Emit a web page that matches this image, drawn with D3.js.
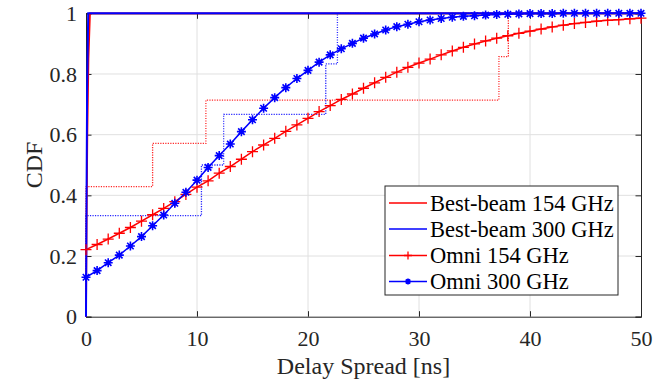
<!DOCTYPE html>
<html><head><meta charset="utf-8">
<script src="https://cdn.jsdelivr.net/npm/d3@7"></script>
<style>body{margin:0;background:#fff}svg{display:block}svg text{font-family:"Liberation Serif","Times New Roman",serif !important;}</style>
</head><body><svg id="c" width="663" height="380" font-family="Liberation Serif"></svg>
<script>
const xTicks=[0,10,20,30,40,50];
const yTicks=[0,0.2,0.4,0.6,0.8,1];
const yTickLabels=["0","0.2","0.4","0.6","0.8","1"];
const seriesNames=["Best-beam 154 GHz","Best-beam 300 GHz","Omni 154 GHz","Omni 300 GHz"];
const colors=["#ff0000","#0000ff","#ff0000","#0000ff"];
// Best-beam CDFs (solid), x in ns
const bb154=[[0,0],[0.05,0.3],[0.12,0.6],[0.22,0.85],[0.36,1],[50,1]];
const bb300=[[0,0],[0.05,0.4],[0.1,0.75],[0.2,1],[50,1]];
// Best-beam empirical steps (dotted)
const bb154StepX=[0,6.0,10.8,37.2,38.05];
const bb154StepY=[0.429,0.571,0.714,0.857,1];
const bb300StepX=[0,10.4,12.4,21.6,22.65];
const bb300StepY=[0.333,0.5,0.667,0.833,1];
// Omni CDFs, sampled every 1 ns from 0 to 50
const omniX=d3.range(0,51);
const omni154=[0.221,0.238,0.256,0.275,0.294,0.315,0.336,0.357,0.379,0.403,0.427,0.448,0.473,0.495,0.519,0.544,0.566,0.588,0.611,0.632,0.654,0.676,0.696,0.716,0.734,0.753,0.771,0.789,0.806,0.822,0.836,0.849,0.863,0.876,0.888,0.899,0.909,0.918,0.926,0.934,0.941,0.948,0.955,0.961,0.966,0.970,0.974,0.977,0.979,0.982,0.984];
const omni300=[0.130,0.152,0.178,0.203,0.233,0.264,0.300,0.335,0.374,0.410,0.450,0.492,0.531,0.569,0.610,0.649,0.687,0.722,0.755,0.785,0.812,0.839,0.863,0.883,0.901,0.918,0.932,0.945,0.956,0.964,0.972,0.978,0.983,0.987,0.990,0.992,0.994,0.996,0.997,0.998,0.999,0.999,0.999,1,1,1,1,1,1,1,1];

const svg=d3.select("#c");
const L=86,R=641,T=13.3,B=316.7;
const x=d3.scaleLinear().domain([0,50]).range([L,R]);
const y=d3.scaleLinear().domain([0,1]).range([B,T]);
const axisCol="#262626";

// grid
const g=svg.append("g");
g.selectAll(".gx").data(xTicks.slice(1,-1)).enter().append("line")
 .attr("x1",d=>x(d)).attr("x2",d=>x(d)).attr("y1",T).attr("y2",B).attr("stroke","#e0e0e0").attr("stroke-width",1);
g.selectAll(".gy").data(yTicks.slice(1,-1)).enter().append("line")
 .attr("y1",d=>y(d)).attr("y2",d=>y(d)).attr("x1",L).attr("x2",R).attr("stroke","#e0e0e0").attr("stroke-width",1);

// axes
const tl=5.5;
const xa=svg.append("g").attr("transform",`translate(0,${B})`).call(d3.axisBottom(x).tickValues(xTicks).tickSize(-tl).tickPadding(14).tickFormat(d3.format("d")));
const xt=svg.append("g").attr("transform",`translate(0,${T})`).call(d3.axisTop(x).tickValues(xTicks).tickSize(-tl).tickFormat(""));
const ya=svg.append("g").attr("transform",`translate(${L},0)`).call(d3.axisLeft(y).tickValues(yTicks).tickSize(-tl).tickPadding(9).tickFormat((d,i)=>yTickLabels[i]));
const yr=svg.append("g").attr("transform",`translate(${R},0)`).call(d3.axisRight(y).tickValues(yTicks).tickSize(-tl).tickFormat(""));
[xa,xt,ya,yr].forEach(a=>{a.attr("font-family","Liberation Serif");a.select(".domain").attr("stroke",axisCol).attr("stroke-width",1);a.selectAll(".tick line").attr("stroke",axisCol).attr("stroke-width",1);a.selectAll("text").style("font-size","22px").attr("fill",axisCol);});
xa.selectAll(".tick").filter(d=>d===0||d===50).select("line").remove();

const line=d3.line().x(d=>x(d[0])).y(d=>y(d[1]));
function steps(xs,ys){const pts=[[xs[0],0]];xs.forEach((v,i)=>{pts.push([v,i===0?0:ys[i-1]]);pts.push([v,ys[i]]);});pts.push([50,1]);return pts;}

const plot=svg.append("g");
// dotted steps
plot.append("path").attr("d",line(steps(bb154StepX,bb154StepY))).attr("fill","none").attr("stroke",colors[0]).attr("stroke-width",1.3).attr("stroke-dasharray","1.2,1.3").attr("opacity",0.85);
plot.append("path").attr("d",line(steps(bb300StepX,bb300StepY))).attr("fill","none").attr("stroke",colors[1]).attr("stroke-width",1.3).attr("stroke-dasharray","1.2,1.3").attr("opacity",0.85);

// omni lines
const o154=omniX.map((v,i)=>[v,omni154[i]]);
const o300=omniX.map((v,i)=>[v,omni300[i]]);
plot.append("path").attr("d",line(o154)).attr("fill","none").attr("stroke",colors[2]).attr("stroke-width",1.5);
plot.append("path").attr("d",line(o300)).attr("fill","none").attr("stroke",colors[3]).attr("stroke-width",1.5);

// best-beam solid
plot.append("path").attr("d",line(bb154)).attr("fill","none").attr("stroke",colors[0]).attr("stroke-width",1.8);
plot.append("path").attr("d",line(bb300)).attr("fill","none").attr("stroke",colors[1]).attr("stroke-width",2);

function plus(sel,s,col){sel.append("path").attr("d",`M${-s},0H${s}M0,${-s}V${s}`).attr("stroke",col).attr("stroke-width",1.3).attr("fill","none");}
function star(sel,s,col){const d=s*0.72;sel.append("path").attr("d",`M${-s},0H${s}M0,${-s}V${s}M${-d},${-d}L${d},${d}M${-d},${d}L${d},${-d}`).attr("stroke",col).attr("stroke-width",1.6).attr("fill","none");sel.append("circle").attr("r",2.2).attr("fill",col);}
o154.forEach(p=>{plus(plot.append("g").attr("transform",`translate(${x(p[0])},${y(p[1])})`),5.5,colors[2]);});
o300.forEach(p=>{star(plot.append("g").attr("transform",`translate(${x(p[0])},${y(p[1])})`),4.5,colors[3]);});

// axis labels
svg.append("text").attr("x",(L+R)/2).attr("y",374).attr("text-anchor","middle").style("font-size","24px").attr("fill",axisCol).text("Delay Spread [ns]");
svg.append("text").attr("transform",`translate(42,${(T+B)/2}) rotate(-90)`).attr("text-anchor","middle").style("font-size","24px").attr("fill",axisCol).text("CDF");

// legend
const lg=svg.append("g");
lg.append("rect").attr("x",385).attr("y",186).attr("width",233).attr("height",109).attr("fill","#fff").attr("stroke",axisCol).attr("stroke-width",1);
const rowY=[203,229,255.5,281.5];
seriesNames.forEach((n,i)=>{
 lg.append("line").attr("x1",389).attr("x2",427).attr("y1",rowY[i]).attr("y2",rowY[i]).attr("stroke",colors[i]).attr("stroke-width",1.3);
 if(i===2) plus(lg.append("g").attr("transform",`translate(408,${rowY[i]})`),4,colors[i]);
 if(i===3) star(lg.append("g").attr("transform",`translate(408,${rowY[i]})`),3,colors[i]);
 lg.append("text").attr("x",430).attr("y",rowY[i]).attr("dy","0.35em").style("font-size","22.5px").attr("fill","#000").text(n);
});
</script></body></html>
